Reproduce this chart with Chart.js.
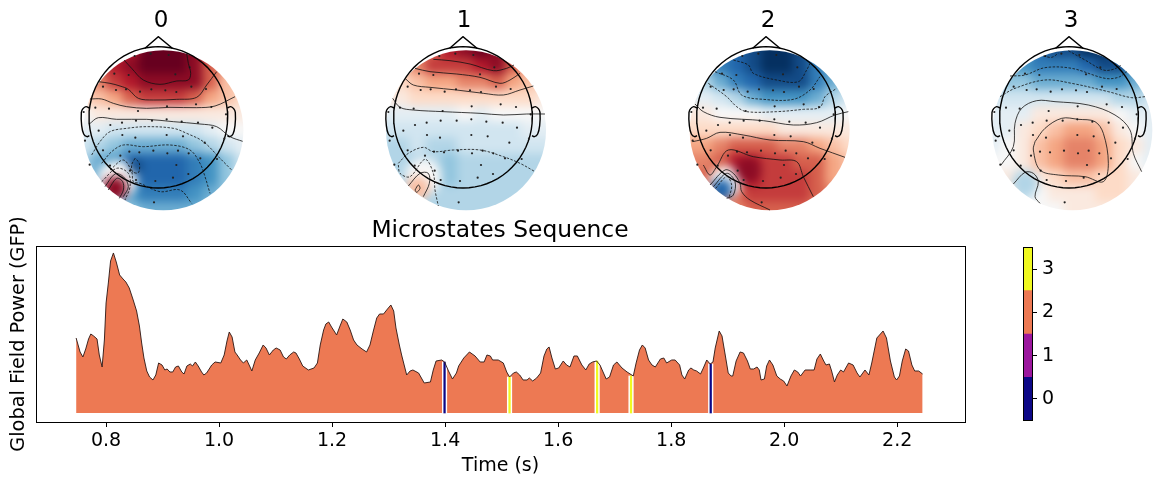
<!DOCTYPE html>
<html>
<head>
<meta charset="utf-8">
<title>Microstates Sequence</title>
<script src="https://cdn.jsdelivr.net/npm/chart.js@4/dist/chart.umd.min.js"></script>
<style>
    html, body { margin: 0; padding: 0; background: #fff; overflow: hidden; }
    #page { position: relative; width: 1162px; height: 484px; overflow: hidden; }
    #page canvas { position: absolute; }
    .heat { position: absolute; top: 0; width: 200px; height: 240px; }
    .heat canvas { left: 0; top: 0; filter: blur(5px); }
</style>
</head>
<body>
<div id="page"></div>
<script>
// Global field power trace
const gfpTimes = [
    .747,.754,.759,.764,.769,.773,.778,.784,.788,.793,.797,.800,.804,.808,.813,.818,.824,.830,.835,.841,
    .848,.854,.859,.863,.867,.872,.877,.883,.888,.893,.899,.904,.908,.913,.918,.923,.928,.934,.938,.943,
    .949,.953,.958,.963,.969,.973,.978,.987,.993,1.003,1.009,1.014,1.018,1.023,1.028,1.032,1.038,1.043,1.049,1.054,
    1.058,1.064,1.071,1.078,1.083,1.089,1.096,1.101,1.108,1.114,1.119,1.125,1.132,1.136,1.142,1.148,1.158,1.168,1.174,1.179,
    1.185,1.189,1.194,1.199,1.208,1.214,1.219,1.226,1.232,1.238,1.244,1.253,1.261,1.267,1.273,1.279,1.284,1.291,1.298,1.304,
    1.309,1.313,1.319,1.323,1.332,1.338,1.343,1.353,1.363,1.374,1.379,1.384,1.394,1.399,1.406,1.413,1.420,1.424,1.433,1.443,
    1.453,1.462,1.469,1.474,1.480,1.484,1.494,1.503,1.509,1.514,1.521,1.526,1.532,1.538,1.545,1.549,1.555,1.562,1.569,1.575,
    1.580,1.584,1.589,1.595,1.601,1.609,1.615,1.621,1.628,1.634,1.642,1.649,1.655,1.661,1.668,1.674,1.685,1.691,1.698,1.704,
    1.713,1.722,1.733,1.738,1.744,1.749,1.754,1.760,1.766,1.772,1.781,1.787,1.792,1.801,1.807,1.815,1.819,1.824,1.831,1.835,
    1.840,1.845,1.852,1.857,1.863,1.869,1.874,1.878,1.885,1.890,1.896,1.901,1.906,1.909,1.915,1.922,1.928,1.935,1.940,1.946,
    1.952,1.956,1.959,1.965,1.969,1.974,1.980,1.987,1.993,1.999,2.005,2.012,2.018,2.024,2.029,2.037,2.046,2.053,2.058,2.064,
    2.070,2.074,2.080,2.084,2.089,2.094,2.100,2.105,2.114,2.122,2.129,2.134,2.143,2.150,2.155,2.164,2.175,2.181,2.188,2.195,
    2.199,2.204,2.209,2.215,2.220,2.226,2.231,2.238,2.245
];
const gfpValues = [
    .75,.61,.56,.64,.74,.79,.77,.74,.58,.46,.73,1.10,1.30,1.52,1.60,1.51,1.38,1.34,1.31,1.25,
    1.13,1.02,.87,.70,.55,.42,.36,.33,.38,.50,.48,.43,.44,.41,.41,.46,.47,.41,.39,.47,
    .49,.47,.51,.47,.41,.38,.40,.48,.51,.50,.58,.72,.81,.76,.61,.58,.53,.50,.53,.47,
    .42,.53,.60,.68,.65,.58,.63,.65,.63,.56,.54,.58,.61,.60,.54,.47,.43,.45,.50,.68,
    .83,.89,.91,.86,.78,.87,.94,.91,.83,.73,.68,.64,.61,.68,.82,.95,.99,.99,1.04,1.08,
    1.02,.85,.68,.58,.38,.42,.43,.40,.30,.31,.43,.52,.53,.51,.42,.34,.40,.47,.55,.61,
    .57,.51,.51,.58,.57,.53,.53,.50,.41,.36,.40,.41,.38,.33,.33,.35,.32,.35,.40,.57,
    .64,.66,.55,.44,.45,.52,.48,.46,.57,.57,.48,.43,.49,.51,.52,.48,.34,.36,.48,.51,
    .45,.41,.37,.50,.63,.68,.65,.53,.48,.46,.54,.55,.50,.53,.53,.48,.38,.34,.43,.45,
    .43,.42,.39,.45,.53,.49,.51,.65,.82,.77,.57,.40,.37,.37,.52,.61,.60,.52,.44,.44,
    .46,.43,.33,.34,.47,.53,.48,.37,.34,.32,.27,.37,.43,.41,.37,.43,.43,.43,.54,.59,
    .52,.48,.49,.42,.31,.38,.43,.41,.50,.48,.40,.36,.43,.38,.50,.75,.82,.75,.52,.36,
    .33,.37,.52,.64,.62,.48,.42,.42,.39
];

// Samples that belong to another microstate than the dominant one
const stripeTimes = [1.399, 1.514, 1.669, 1.729, 1.870];
const stripeValues = [.51, .36, .52, .37, .49];
const stripeStates = [0, 3, 3, 3, 0];
const dominantState = 2;

const timeTicks = [0.8, 1.0, 1.2, 1.4, 1.6, 1.8, 2.0, 2.2];
const stateLabels = [0, 1, 2, 3];
const stateColors = ['#0d0887', '#9c179e', '#ed7953', '#f0f921'];

// Topomaps: field rows in tenths, -10 (blue) to 10 (red), sampled every 16 px over the disc
const head0Field = [
    [6,6,7,8,10,10,10,9,7,5,4],
    [5,6,8,9,10,10,10,9,6,4,3],
    [4,5,7,8,9,9,9,9,6,3,3],
    [2,3,4,6,7,7,7,6,4,3,2],
    [0,1,1,1,1,1,1,1,1,1,1],
    [-1,-1,-2,-2,-2,-2,-2,-2,-1,0,0],
    [-2,-3,-4,-5,-5,-5,-5,-4,-3,-2,-1],
    [-3,-5,-6,-8,-8,-8,-8,-7,-6,-4,-2],
    [-4,-5,-5,-7,-8,-8,-8,-7,-6,-4,-2],
    [-4,-4,-4,-6,-7,-7,-7,-6,-5,-4,-3],
    [-4,-4,-4,-4,-5,-5,-5,-5,-4,-4,-3]
];
const head1Field = [
    [3,3,4,6,8,9,10,9,6,3,3],
    [2,3,5,7,7,7,8,9,6,3,2],
    [2,2,3,4,4,5,5,6,4,3,2],
    [1,1,2,2,2,2,2,2,2,2,1],
    [-1,-1,-1,-1,-1,0,-1,0,0,0,0],
    [-2,-2,-2,-2,-2,-2,-2,-2,-2,-1,-1],
    [-3,-3,-2,-3,-3,-2,-2,-2,-2,-2,-2],
    [-3,-3,-3,-3,-4,-3,-3,-3,-3,-3,-3],
    [-3,-3,-1,-2,-4,-3,-3,-3,-3,-3,-3],
    [-3,-3,-2,-3,-3,-3,-3,-3,-3,-3,-3],
    [-3,-3,-3,-3,-3,-3,-3,-3,-3,-3,-3]
];
const head2Field = [
    [-5,-5,-6,-8,-9,-10,-10,-9,-7,-5,-3],
    [-4,-5,-7,-8,-9,-10,-10,-9,-7,-5,-3],
    [-3,-3,-5,-7,-8,-9,-9,-9,-7,-5,-3],
    [-1,-1,-2,-3,-5,-6,-6,-6,-5,-3,-2],
    [1,1,0,0,0,-1,-1,-1,-1,-1,0],
    [2,2,2,2,2,2,1,1,1,1,1],
    [4,4,5,6,6,6,5,5,4,3,2],
    [5,5,6,8,8,7,7,6,6,4,3],
    [6,6,5,8,8,7,7,7,6,4,3],
    [6,6,5,6,7,7,7,7,6,5,4],
    [5,5,5,5,6,6,6,6,5,5,4]
];
const head3Field = [
    [-5,-5,-5,-8,-9,-9,-10,-10,-9,-5,-3],
    [-4,-5,-6,-7,-7,-7,-8,-9,-9,-6,-3],
    [-3,-4,-4,-5,-5,-5,-5,-6,-6,-5,-3],
    [-2,-2,-2,-2,-2,-2,-2,-2,-3,-3,-2],
    [-1,-1,-1,1,1,1,1,1,0,-1,-1],
    [-1,-1,1,2,3,4,4,3,1,0,-1],
    [-1,0,1,3,4,5,5,4,2,1,-1],
    [0,0,1,3,4,5,5,4,2,0,-1],
    [1,1,-1,1,2,3,3,2,2,1,0],
    [1,1,-2,0,1,1,1,2,2,1,1],
    [0,0,0,0,0,1,1,1,1,1,0]
];

// Local blobs on top of the grid: [x, y, value, radius]
const head0Spots = [[172,540,0,60],[165,565,9,36],[228,500,-9,22]];
const head1Spots = [[160,530,0,55],[143,565,3,36]];
const head2Spots = [[165,548,0,50],[155,568,-8,32],[235,510,9,40]];
const head3Spots = [[150,550,-3,40]];

const sensorX = [208,256,310,373,330,190,147,113,152,182,224,258,300,333,378,422,90,131,218,305,392,438,482,55,135,170,212,260,304,349,398,441,100,171,210,304,353,418,477,59,113,192,222,264,306,338,370,405,455,73,134,165,194,333,369,212,270,323,266];
const sensorY = [168,161,165,202,223,225,221,260,270,268,275,268,271,276,260,267,323,326,333,319,313,321,343,336,375,368,362,362,358,365,368,383,392,405,413,405,409,428,416,422,451,455,457,452,460,452,460,475,477,494,497,467,512,495,522,540,543,533,607];
const sensorCentreX = 279;

// Contour lines: [x, y] pairs
const head0Solid = [
    [[192,180],[215,205],[250,240],[300,253],[350,243],[385,240],[392,220],[385,190],[380,160]],
    [[115,245],[150,250],[180,258],[205,268],[235,295],[280,300],[350,298],[410,292],[440,255],[470,215]],
    [[90,297],[125,297],[160,310],[200,320],[260,325],[330,322],[410,323],[465,318],[525,290]],
    [[88,372],[115,353],[170,358],[260,358],[340,365],[420,372],[470,380],[510,410],[548,424]],
    [[135,560],[165,522],[190,530],[205,560],[190,590]],
    [[145,570],[170,535],[188,545],[190,570],[178,595]]
];
const head0Dashed = [
    [[95,465],[120,425],[150,395],[200,385],[260,380],[340,385],[380,400],[430,425],[480,475],[515,510]],
    [[125,490],[155,455],[190,435],[250,440],[330,435],[390,450],[420,490],[435,530],[450,580]],
    [[125,545],[170,505],[205,520],[210,560],[195,600]],
    [[150,510],[190,480],[215,515],[220,545],[240,550],[300,575],[360,570],[395,610]],
    [[225,475],[215,495],[218,515],[235,518],[238,490],[225,475]]
];
const head1Solid = [
    [[190,178],[240,182],[300,192],[370,212],[410,205],[432,195]],
    [[135,205],[180,215],[260,222],[330,232],[390,250],[420,240],[450,220]],
    [[105,235],[130,255],[180,262],[260,270],[340,280],[400,285],[450,270],[490,258]],
    [[68,295],[90,322],[130,330],[220,335],[330,340],[400,345],[470,342],[525,342]],
    [[115,558],[150,520],[175,520],[178,550],[160,590]],
    [[135,570],[145,555],[150,565],[140,577],[135,570]]
];
const head1Dashed = [
    [[85,490],[115,460],[160,442],[190,455],[250,450],[330,450],[400,470],[450,490],[495,515]],
    [[85,495],[90,520],[120,530],[165,478],[190,520],[195,570],[205,618]]
];
const head2Solid = [
    [[75,312],[100,335],[150,352],[280,362],[370,375],[440,368],[495,345],[535,335]],
    [[68,425],[110,415],[150,397],[220,405],[300,420],[400,425],[450,445],[525,472]],
    [[100,495],[120,525],[140,500],[175,450],[250,470],[330,480],[380,485],[400,530],[430,590]],
    [[120,555],[165,510],[190,520],[210,550],[215,575],[240,600],[300,630]],
    [[130,560],[170,520],[195,545],[190,585],[170,595]]
];
const head2Dashed = [
    [[190,180],[235,195],[250,220],[320,240],[385,245],[410,210],[420,190]],
    [[135,215],[190,240],[215,285],[280,298],[370,298],[420,270],[450,230]],
    [[115,250],[170,290],[200,320],[230,335],[320,335],[400,328],[450,322],[465,290],[500,265]],
    [[137,565],[170,530],[185,555],[178,590]]
];
const head3Solid = [
    [[78,495],[115,440],[120,370],[140,325],[185,302],[240,305],[340,315],[420,345],[465,390],[475,460],[500,515]],
    [[180,425],[175,450],[195,510],[250,525],[330,530],[385,545],[400,490],[385,400],[360,365],[310,358],[260,355],[210,385],[180,425]],
    [[115,552],[150,517],[175,520],[190,545],[180,590],[195,610]]
];
const head3Dashed = [
    [[205,168],[230,172],[250,160]],
    [[280,152],[330,180],[385,210],[415,208],[440,195]],
    [[105,228],[150,225],[210,203],[290,205],[390,235],[430,232],[455,215]],
    [[75,290],[120,265],[210,240],[290,250],[400,275],[470,293],[510,290]]
];

// One entry per map, coordinates are in thirds of a pixel
const mapTitles = ['0', '1', '2', '3'];
const mapFields = [head0Field, head1Field, head2Field, head3Field];
const mapSpots = [head0Spots, head1Spots, head2Spots, head3Spots];
const mapSolid = [head0Solid, head1Solid, head2Solid, head3Solid];
const mapDashed = [head0Dashed, head1Dashed, head2Dashed, head3Dashed];
const mapLeft = [61, 364, 668, 971];
const mapOffset = [3, -18, -6, -12];
const headCentreX = [295, 279, 288, 282];
const discCentreX = [310, 288, 299, 292];
const discCentreY = 391;
const headCentreY = 352;

const rdbuStops = ['#053061','#2166ac','#4393c3','#92c5de','#d1e5f0','#f7f7f7','#fddbc7','#f4a582','#d6604d','#b2182b','#67001f'];

const fontFamily = '"DejaVu Sans", sans-serif';
const page = document.getElementById('page');

Chart.defaults.font.family = fontFamily;
Chart.defaults.color = '#000';
Chart.defaults.animation = false;
Chart.defaults.responsive = false;
Chart.defaults.devicePixelRatio = 1;
Chart.defaults.layout.autoPadding = false;
Chart.defaults.plugins.legend.display = false;
Chart.defaults.plugins.tooltip.enabled = false;

// Mix the colour for a field value
function fieldColor(value) {
    const pos = Math.max(0, Math.min(10, (value + 10) / 2));
    const low = Math.floor(pos);
    const high = Math.min(10, low + 1);
    const part = pos - low;
    const a = parseInt(rdbuStops[low].slice(1), 16);
    const b = parseInt(rdbuStops[high].slice(1), 16);
    const mix = shift => Math.round(((a >> shift) & 255) * (1 - part) + ((b >> shift) & 255) * part);
    return `rgb(${mix(16)},${mix(8)},${mix(0)})`;
}

function addCanvas(parent, left, top, width, height) {
    const canvas = document.createElement('canvas');
    canvas.width = width;
    canvas.height = height;
    canvas.style.left = left + 'px';
    canvas.style.top = top + 'px';
    parent.appendChild(canvas);
    return canvas;
}

function toPoints(pairs) {
    return pairs.map(p => ({ x: p[0], y: p[1] }));
}

// Blurred colour field, cut to the disc by the wrapper
function drawField(i) {
    const wrap = document.createElement('div');
    wrap.className = 'heat';
    wrap.style.left = mapLeft[i] + 'px';
    const discX = (discCentreX[i] - mapOffset[i]) / 3;
    wrap.style.clipPath = `circle(80px at ${discX}px ${discCentreY / 3}px)`;
    page.appendChild(wrap);

    // Rows and columns past the edge repeat the nearest cell so the blur stays solid
    const cells = [];
    const colors = [];
    for (let r = -2; r < 13; r++) {
        for (let c = -2; c < 13; c++) {
            const row = mapFields[i][Math.max(0, Math.min(10, r))];
            cells.push({ x: discCentreX[i] + (c - 5) * 48, y: discCentreY + (r - 5) * 48 });
            colors.push(fieldColor(row[Math.max(0, Math.min(10, c))]));
        }
    }
    const spots = mapSpots[i];

    new Chart(addCanvas(wrap, 0, 0, 200, 240), {
        type: 'scatter',
        data: {
            datasets: [
                {
                    data: spots.map(s => ({ x: s[0], y: s[1] })),
                    pointStyle: 'circle',
                    pointRadius: spots.map(s => s[3] / 3),
                    pointBackgroundColor: spots.map(s => fieldColor(s[2])),
                    pointBorderWidth: 0,
                    order: 1
                },
                {
                    data: cells,
                    pointStyle: 'rect',
                    pointRadius: 12.5,
                    pointBackgroundColor: colors,
                    pointBorderWidth: 0,
                    order: 2
                }
            ]
        },
        options: {
            layout: { padding: 0 },
            scales: {
                x: { display: false, min: mapOffset[i], max: mapOffset[i] + 600 },
                y: { display: false, min: 0, max: 720, reverse: true }
            }
        }
    });
}

// Head outline, contours and electrodes
function drawOverlay(i) {
    const cx = headCentreX[i];
    const cy = headCentreY;
    const circle = [];
    for (let a = 0; a <= 72; a++) {
        const rad = a / 72 * 2 * Math.PI;
        circle.push({ x: cx + 208 * Math.cos(rad), y: cy + 212 * Math.sin(rad) });
    }
    const nose = [[-40,-207],[0,-242],[42,-207]].map(p => ({ x: cx + p[0], y: cy + p[1] }));
    const ear = [[207,-28],[217,-32],[226,-26],[231,-15],[230,25],[224,50],[214,58],[207,55]];
    const rightEar = ear.map(p => ({ x: cx + p[0], y: cy + p[1] }));
    const leftEar = ear.map(p => ({ x: cx - p[0], y: cy + p[1] }));

    const outline = pts => ({ data: pts, borderColor: '#000', borderWidth: 1.4, pointRadius: 0, showLine: true, fill: false });
    const earLine = pts => Object.assign(outline(pts), { tension: 0.35 });
    const contour = (pts, dash) => ({
        data: toPoints(pts),
        borderColor: '#111',
        borderWidth: 0.8,
        borderDash: dash,
        pointRadius: 0,
        showLine: true,
        tension: 0.35,
        fill: false
    });

    const datasets = [
        ...mapSolid[i].map(c => contour(c, [])),
        ...mapDashed[i].map(c => contour(c, [2.5, 1.5])),
        {
            data: sensorX.map((x, k) => ({ x: x - sensorCentreX + cx, y: sensorY[k] })),
            showLine: false,
            pointRadius: 1.1,
            pointBackgroundColor: '#222',
            pointBorderWidth: 0
        },
        outline(circle),
        outline(nose),
        earLine(rightEar),
        earLine(leftEar)
    ];

    new Chart(addCanvas(page, mapLeft[i], 0, 200, 220), {
        type: 'scatter',
        data: { datasets: datasets },
        options: {
            layout: { padding: 0 },
            plugins: {
                title: {
                    display: true,
                    text: mapTitles[i],
                    font: { size: 23, weight: 'normal' },
                    lineHeight: 1.2,
                    padding: { top: 7, bottom: 1.4 }
                }
            },
            scales: {
                x: { display: false, min: mapOffset[i], max: mapOffset[i] + 600 },
                y: { display: false, min: 108, max: 660, reverse: true }
            }
        }
    });
}

// Black box around the plot area
const framePlugin = {
    id: 'frame',
    afterDraw(chart) {
        const { ctx, chartArea: a } = chart;
        ctx.save();
        ctx.strokeStyle = '#000';
        ctx.lineWidth = 1;
        ctx.strokeRect(Math.round(a.left) + 0.5, Math.round(a.top) + 0.5, Math.round(a.width), Math.round(a.height));
        ctx.restore();
    }
};

function drawSequence() {
    const trace = gfpTimes.map((t, k) => ({ x: t, y: gfpValues[k] }));
    const stripes = stripeTimes.map((t, k) => ({ x: t, y: stripeValues[k] }));

    new Chart(addCanvas(page, 0, 210, 1000, 274), {
        type: 'line',
        data: {
            datasets: [
                {
                    data: trace,
                    borderColor: '#2a1512',
                    borderWidth: 0.9,
                    pointRadius: 0,
                    fill: false,
                    order: 1
                },
                {
                    type: 'bar',
                    data: stripes,
                    backgroundColor: stripeStates.map(s => stateColors[s]),
                    barThickness: 1.6,
                    grouped: false,
                    order: 2
                },
                {
                    type: 'bar',
                    data: stripes,
                    backgroundColor: '#fff',
                    barThickness: 4.5,
                    grouped: false,
                    order: 3
                },
                {
                    data: trace,
                    borderWidth: 0,
                    backgroundColor: stateColors[dominantState],
                    pointRadius: 0,
                    fill: 'origin',
                    order: 4
                }
            ]
        },
        plugins: [framePlugin],
        options: {
            layout: { padding: { bottom: 7 } },
            plugins: {
                title: {
                    display: true,
                    text: 'Microstates Sequence',
                    font: { size: 23.4, weight: 'normal' },
                    lineHeight: 1.2,
                    padding: { top: 7, bottom: 0.9 }
                }
            },
            scales: {
                x: {
                    type: 'linear',
                    offset: false,
                    min: 0.676,
                    max: 2.32,
                    afterBuildTicks: s => { s.ticks = timeTicks.map(v => ({ value: v })); },
                    afterFit: s => { s.height = 55; },
                    border: { display: false },
                    grid: { offset: false, drawOnChartArea: false, tickLength: 5, tickColor: '#000', tickWidth: 1 },
                    ticks: {
                        font: { size: 19 },
                        maxRotation: 0,
                        padding: 3,
                        callback: v => v.toFixed(1)
                    },
                    title: {
                        display: true,
                        text: 'Time (s)',
                        font: { size: 19 },
                        padding: { top: 2, bottom: 0 }
                    }
                },
                y: {
                    min: -0.09,
                    max: 1.67,
                    afterFit: s => { s.width = 36; },
                    border: { display: false },
                    grid: { display: false },
                    ticks: { display: false },
                    title: {
                        display: true,
                        text: 'Global Field Power (GFP)',
                        font: { size: 19.3 },
                        padding: { top: 7, bottom: 0 }
                    }
                },
                // Empty strip on the right so the title centres over the plot
                rightGap: {
                    type: 'linear',
                    position: 'right',
                    afterFit: s => { s.width = 35; },
                    border: { display: false },
                    grid: { display: false },
                    ticks: { display: false }
                }
            }
        }
    });
}

function drawColorbar() {
    // The top and bottom tick labels keep some room free above and below the bar
    new Chart(addCanvas(page, 1000, 231, 90, 206), {
        type: 'bar',
        data: {
            labels: [''],
            datasets: stateLabels.map(s => ({
                data: [[s - 0.5, s + 0.5]],
                backgroundColor: stateColors[s],
                barPercentage: 1,
                categoryPercentage: 1,
                grouped: false
            }))
        },
        plugins: [framePlugin],
        options: {
            layout: { padding: { left: 23 } },
            scales: {
                x: { display: false },
                y: {
                    position: 'right',
                    min: -0.5,
                    max: 3.5,
                    afterBuildTicks: s => { s.ticks = stateLabels.map(v => ({ value: v })); },
                    afterFit: s => { s.width = 58; },
                    border: { display: false },
                    grid: { drawOnChartArea: false, tickLength: 5, tickColor: '#000', tickWidth: 1 },
                    ticks: { font: { size: 19 }, padding: 5 }
                }
            }
        }
    });
}

mapTitles.forEach((t, i) => drawField(i));
mapTitles.forEach((t, i) => drawOverlay(i));
drawSequence();
drawColorbar();
</script>
</body>
</html>
